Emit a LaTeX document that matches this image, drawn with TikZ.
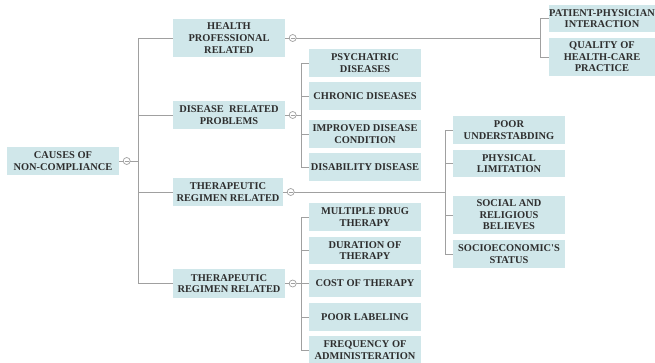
\documentclass[tikz,border=0pt]{standalone}
\usepackage{fontspec}
\setmainfont{Liberation Serif}
\begin{document}
\definecolor{boxfill}{HTML}{D0E7EA}
\definecolor{boxtext}{HTML}{2E2E2E}
\definecolor{wire}{HTML}{A0A0A0}
\begin{tikzpicture}[x=1pt,y=-1pt,
  cause/.style={fill=boxfill,text=boxtext,inner sep=0pt,align=center,
    font=\bfseries\fontsize{10.4}{11.6}\selectfont,minimum width=112pt,minimum height=28pt},
  wirestyle/.style={draw=wire,line width=0.9pt},
  collapse/.pic={\draw[wire,line width=0.7pt,fill=white] (0,0) circle (3.5pt);
                 \draw[wire,line width=0.7pt] (-1.8pt,0) -- (1.8pt,0);}]
\useasboundingbox (0,0) rectangle (655,362);

% root
\node[cause] (root) at (63,161) {CAUSES OF\\NON-COMPLIANCE};

% first level
\node[cause,minimum height=38pt] (hp)  at (229,38)    {HEALTH\\PROFESSIONAL\\RELATED};
\node[cause] (dis) at (229,115)   {DISEASE~ RELATED\\PROBLEMS};
\node[cause,minimum width=110pt] (th1) at (228,192) {THERAPEUTIC\\REGIMEN RELATED};
\node[cause,minimum height=29pt] (th2) at (229,283.5) {THERAPEUTIC\\REGIMEN RELATED};

% health professional branch
\node[cause,minimum width=106pt,minimum height=27pt] (pp) at (602,18.5) {PATIENT-PHYSICIAN\\INTERACTION};
\node[cause,minimum width=106pt,minimum height=38pt] (qh) at (602,57) {QUALITY OF\\HEALTH-CARE\\PRACTICE};

% disease branch
\node[cause] (psy)  at (365,63)  {PSYCHATRIC\\DISEASES};
\node[cause] (chr)  at (365,96)  {CHRONIC DISEASES};
\node[cause] (imp)  at (365,134) {IMPROVED DISEASE\\CONDITION};
\node[cause] (dsb)  at (365,167) {DISABILITY DISEASE};

% therapeutic regimen branch (patient side)
\node[cause] (poor)  at (509,130)   {POOR\\UNDERSTABDING};
\node[cause,minimum height=27pt] (phys)  at (509,163.5) {PHYSICAL\\LIMITATION};
\node[cause,minimum height=38pt] (soc)   at (509,215)   {SOCIAL AND\\RELIGIOUS\\BELIEVES};
\node[cause] (socio) at (509,254)   {SOCIOECONOMIC\textquotesingle S\\STATUS};

% therapeutic regimen branch (therapy side)
\node[cause] (mult)  at (365,217)   {MULTIPLE DRUG\\THERAPY};
\node[cause,minimum height=27pt] (dur)   at (365,250.5) {DURATION OF\\THERAPY};
\node[cause,minimum height=27pt] (cost)  at (365,283.5) {COST OF THERAPY};
\node[cause] (lab)   at (365,317)   {POOR LABELING};
\node[cause] (freq)  at (365,350)   {FREQUENCY OF\\ADMINISTERATION};

% bus points
\coordinate (rootbus) at (138,161);
\coordinate (hpbus)   at (540,38);
\coordinate (disbus)  at (301,115);
\coordinate (th1bus)  at (445,192);
\coordinate (th2bus)  at (301,283.5);

% connectors
\begin{scope}[wirestyle]
\draw (root.east) -- (rootbus);
\foreach \c in {hp,dis,th1,th2} \draw (rootbus) |- (\c.west);
\draw (hp.east) -- (hpbus);
\foreach \c in {pp,qh} \draw (hpbus) |- (\c.west);
\draw (dis.east) -- (disbus);
\foreach \c in {psy,chr,imp,dsb} \draw (disbus) |- (\c.west);
\draw (th1.east) -- (th1bus);
\foreach \c in {poor,phys,soc,socio} \draw (th1bus) |- (\c.west);
\draw (th2.east) -- (th2bus);
\foreach \c in {mult,dur,cost,lab,freq} \draw (th2bus) |- (\c.west);
\end{scope}

% collapse markers
\foreach \c in {root,hp,dis,th1,th2} \path (\c.east) ++(7.5,0) pic {collapse};
\end{tikzpicture}
\end{document}
